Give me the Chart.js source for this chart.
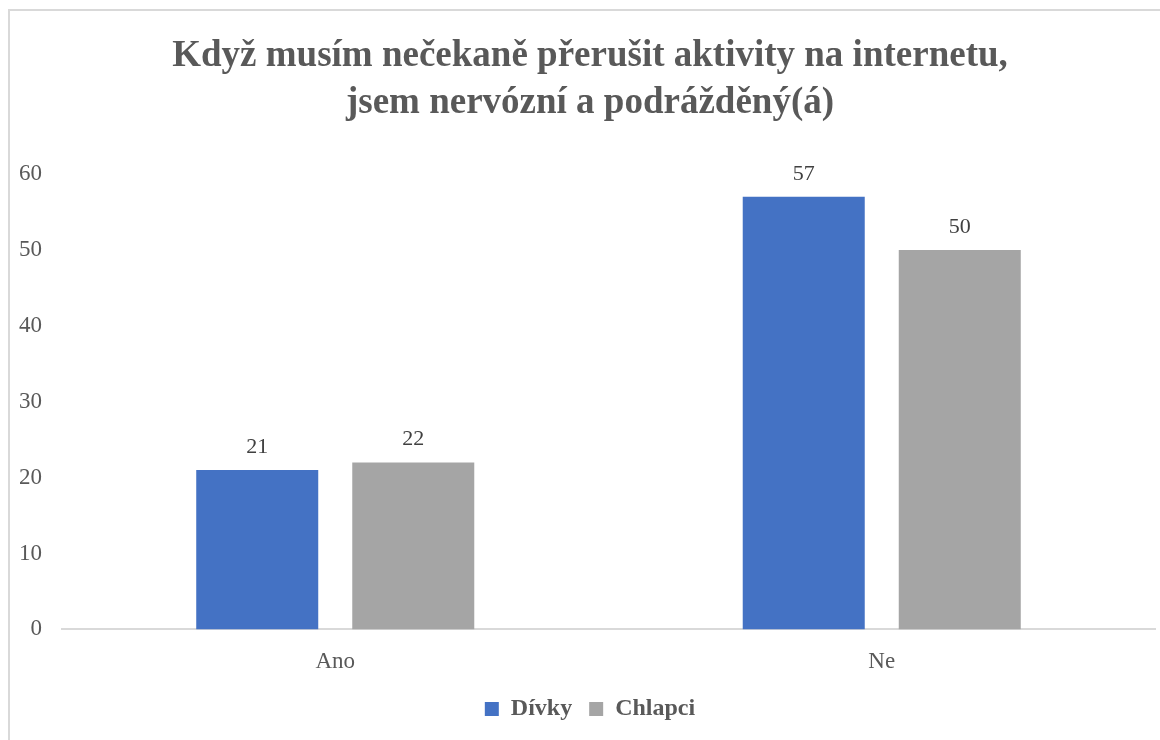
<!DOCTYPE html>
<html>
<head>
<meta charset="utf-8">
<script src="https://cdn.jsdelivr.net/npm/chart.js@4"></script>
<style>
  html, body { margin: 0; padding: 0; background: #fff; overflow: hidden; }
  #wrap { position: relative; width: 1160px; height: 740px; }
  #frame { position: absolute; left: 8px; top: 9px; width: 1200px; height: 800px; border: 2px solid #d9d9d9; box-sizing: border-box; pointer-events: none; }
  canvas { position: absolute; left: 0; top: 0; }
</style>
</head>
<body>
<div id="wrap">
  <div id="frame"></div>
  <canvas id="c" width="1160" height="740"></canvas>
</div>
<script>
const titleLines = ["Když musím nečekaně přerušit aktivity na internetu,", "jsem nervózní a podrážděný(á)"];
const categories = ["Ano", "Ne"];
const divky = [21, 57];
const chlapci = [22, 50];
const seriesNames = ["Dívky", "Chlapci"];
const yTicks = [0, 10, 20, 30, 40, 50, 60];

const SERIF = "'Liberation Serif', 'Times New Roman', serif";

const dataLabels = {
  id: 'dataLabels',
  afterDatasetsDraw(chart) {
    const ctx = chart.ctx;
    ctx.save();
    ctx.font = "22px " + SERIF;
    ctx.fillStyle = "#404040";
    ctx.textAlign = "center";
    ctx.textBaseline = "bottom";
    chart.data.datasets.forEach((ds, i) => {
      const meta = chart.getDatasetMeta(i);
      meta.data.forEach((el, j) => {
        ctx.fillText(String(ds.data[j]), el.x, el.y - 12);
      });
    });
    ctx.restore();
  }
};

new Chart(document.getElementById('c'), {
  type: 'bar',
  data: {
    labels: categories,
    datasets: [
      { label: seriesNames[0], data: divky, backgroundColor: '#4472C4', categoryPercentage: 0.571, barPercentage: 0.782 },
      { label: seriesNames[1], data: chlapci, backgroundColor: '#A5A5A5', categoryPercentage: 0.571, barPercentage: 0.782 }
    ]
  },
  options: {
    responsive: false,
    animation: false,
    devicePixelRatio: 1,
    layout: { padding: { left: 25, right: 5, top: 0, bottom: 9 } },
    plugins: {
      title: {
        display: true,
        text: titleLines,
        color: '#595959',
        font: { family: SERIF, size: 37, weight: 'bold', lineHeight: 1.27 },
        padding: { top: 33, bottom: 47 }
      },
      legend: {
        position: 'bottom',
        labels: {
          color: '#595959',
          font: { family: SERIF, size: 24, weight: 'bold' },
          boxWidth: 14,
          boxHeight: 14,
          padding: 17
        }
      },
      tooltip: { enabled: false }
    },
    scales: {
      x: {
        afterFit(axis) { axis.height = axis.height - 15; },
        grid: { display: false, drawTicks: false },
        border: { display: true, color: '#d9d9d9', width: 2 },
        ticks: { color: '#595959', font: { family: SERIF, size: 23 }, padding: 19 }
      },
      y: {
        min: 0,
        max: 60,
        afterBuildTicks(axis) { axis.ticks = yTicks.map(v => ({ value: v })); },
        afterFit(axis) { axis.width = 37; },
        grid: { display: false, drawTicks: false },
        border: { display: false },
        ticks: { color: '#595959', font: { family: SERIF, size: 23 }, mirror: true, crossAlign: 'far', padding: -43 }
      }
    }
  },
  plugins: [dataLabels]
});
</script>
</body>
</html>
